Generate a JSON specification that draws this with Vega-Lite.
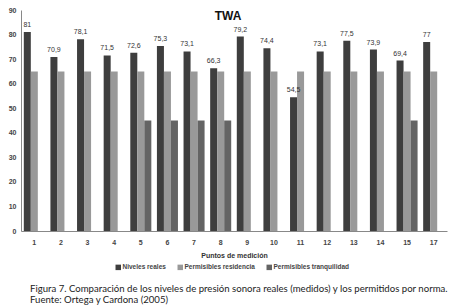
{
  "$schema": "https://vega.github.io/schema/vega-lite/v6.json",
  "width": 426,
  "height": 221,
  "autosize": {"type": "none"},
  "padding": {"left": 21, "top": 10, "right": 9, "bottom": 76},
  "background": "white",
  "title": {
    "text": ["Figura 7. Comparación de los niveles de presión sonora reales (medidos) y los permitidos por norma.", "Fuente: Ortega y Cardona (2005)"],
    "orient": "bottom",
    "anchor": "start",
    "frame": "group",
    "font": "Lato",
    "fontSize": 9.6,
    "fontWeight": "normal",
    "color": "#222222",
    "lineHeight": 11,
    "offset": 13,
    "dx": 9
  },
  "config": {
    "view": {"stroke": null},
    "locale": {"number": {"decimal": ",", "thousands": ".", "grouping": [3], "currency": ["", " €"]}},
    "axis": {"grid": false, "ticks": false, "labelOverlap": false, "domainColor": "#888888", "labelFont": "Liberation Sans", "labelFontSize": 7, "labelFontWeight": "bold", "labelColor": "#444444", "titleFont": "Liberation Sans", "titleFontSize": 7, "titleColor": "#333333", "titleFontWeight": "bold"},
    "legend": {"labelFont": "Liberation Sans", "labelFontSize": 6.5, "labelFontWeight": "bold", "labelColor": "#444444"}
  },
  "datasets": {
    "niveles": [
      {"punto": 1, "serie": "Niveles reales", "valor": 81},
      {"punto": 2, "serie": "Niveles reales", "valor": 70.9},
      {"punto": 3, "serie": "Niveles reales", "valor": 78.1},
      {"punto": 4, "serie": "Niveles reales", "valor": 71.5},
      {"punto": 5, "serie": "Niveles reales", "valor": 72.6},
      {"punto": 6, "serie": "Niveles reales", "valor": 75.3},
      {"punto": 7, "serie": "Niveles reales", "valor": 73.1},
      {"punto": 8, "serie": "Niveles reales", "valor": 66.3},
      {"punto": 9, "serie": "Niveles reales", "valor": 79.2},
      {"punto": 10, "serie": "Niveles reales", "valor": 74.4},
      {"punto": 11, "serie": "Niveles reales", "valor": 54.5},
      {"punto": 12, "serie": "Niveles reales", "valor": 73.1},
      {"punto": 13, "serie": "Niveles reales", "valor": 77.5},
      {"punto": 14, "serie": "Niveles reales", "valor": 73.9},
      {"punto": 15, "serie": "Niveles reales", "valor": 69.4},
      {"punto": 17, "serie": "Niveles reales", "valor": 77},
      {"punto": 1, "serie": "Permisibles residencia", "valor": 65},
      {"punto": 2, "serie": "Permisibles residencia", "valor": 65},
      {"punto": 3, "serie": "Permisibles residencia", "valor": 65},
      {"punto": 4, "serie": "Permisibles residencia", "valor": 65},
      {"punto": 5, "serie": "Permisibles residencia", "valor": 65},
      {"punto": 6, "serie": "Permisibles residencia", "valor": 65},
      {"punto": 7, "serie": "Permisibles residencia", "valor": 65},
      {"punto": 8, "serie": "Permisibles residencia", "valor": 65},
      {"punto": 9, "serie": "Permisibles residencia", "valor": 65},
      {"punto": 10, "serie": "Permisibles residencia", "valor": 65},
      {"punto": 11, "serie": "Permisibles residencia", "valor": 65},
      {"punto": 12, "serie": "Permisibles residencia", "valor": 65},
      {"punto": 13, "serie": "Permisibles residencia", "valor": 65},
      {"punto": 14, "serie": "Permisibles residencia", "valor": 65},
      {"punto": 15, "serie": "Permisibles residencia", "valor": 65},
      {"punto": 17, "serie": "Permisibles residencia", "valor": 65},
      {"punto": 5, "serie": "Permisibles tranquilidad", "valor": 45},
      {"punto": 6, "serie": "Permisibles tranquilidad", "valor": 45},
      {"punto": 7, "serie": "Permisibles tranquilidad", "valor": 45},
      {"punto": 8, "serie": "Permisibles tranquilidad", "valor": 45},
      {"punto": 15, "serie": "Permisibles tranquilidad", "valor": 45}
    ],
    "titulo": [{"t": "TWA"}]
  },
  "layer": [
    {
      "data": {"name": "niveles"},
      "mark": {"type": "bar"},
      "encoding": {
        "x": {"field": "punto", "type": "ordinal", "scale": {"paddingInner": 0.21, "paddingOuter": 0.105},
              "axis": {"labelAngle": 0, "labelPadding": 7, "title": "Puntos de medición", "titleY": 24, "titleBaseline": "middle"}},
        "xOffset": {"field": "serie", "type": "nominal", "scale": {"domain": ["Niveles reales", "Permisibles residencia", "Permisibles tranquilidad"], "paddingInner": 0, "paddingOuter": 0}},
        "y": {"field": "valor", "type": "quantitative", "scale": {"domain": [0, 90]}, "axis": {"values": [0, 10, 20, 30, 40, 50, 60, 70, 80, 90], "tickCount": 10, "title": null, "labelPadding": 5}},
        "color": {"field": "serie", "type": "nominal",
                  "scale": {"domain": ["Niveles reales", "Permisibles residencia", "Permisibles tranquilidad"], "range": ["#3e3e3e", "#999999", "#646464"]},
                  "legend": {"orient": "none", "legendX": 94, "legendY": 254, "direction": "horizontal", "title": null, "symbolType": "square", "symbolSize": 30, "symbolStrokeWidth": 0, "columnPadding": 11, "labelOffset": 1}}
      }
    },
    {
      "data": {"name": "niveles"},
      "transform": [{"filter": "datum.serie === 'Niveles reales'"}],
      "mark": {"type": "text", "baseline": "bottom", "dy": -4, "font": "Liberation Sans", "fontSize": 7, "fill": "#333333"},
      "encoding": {
        "x": {"field": "punto", "type": "ordinal",
              "axis": {"labelAngle": 0, "labelPadding": 7, "title": "Puntos de medición", "titleY": 24, "titleBaseline": "middle"}},
        "xOffset": {"field": "serie", "type": "nominal"},
        "y": {"field": "valor", "type": "quantitative", "axis": {"values": [0, 10, 20, 30, 40, 50, 60, 70, 80, 90], "tickCount": 10, "title": null, "labelPadding": 5}},
        "text": {"field": "valor", "type": "quantitative", "format": ".1~f"}
      }
    },
    {
      "data": {"name": "titulo"},
      "mark": {"type": "text", "font": "Liberation Sans", "fontSize": 12, "fontWeight": "bold", "fill": "#111111", "baseline": "middle", "dx": -6},
      "encoding": {
        "y": {"datum": 87.6, "axis": {"values": [0, 10, 20, 30, 40, 50, 60, 70, 80, 90], "tickCount": 10, "title": null, "labelPadding": 5}},
        "text": {"field": "t", "type": "nominal"}
      }
    }
  ]
}
